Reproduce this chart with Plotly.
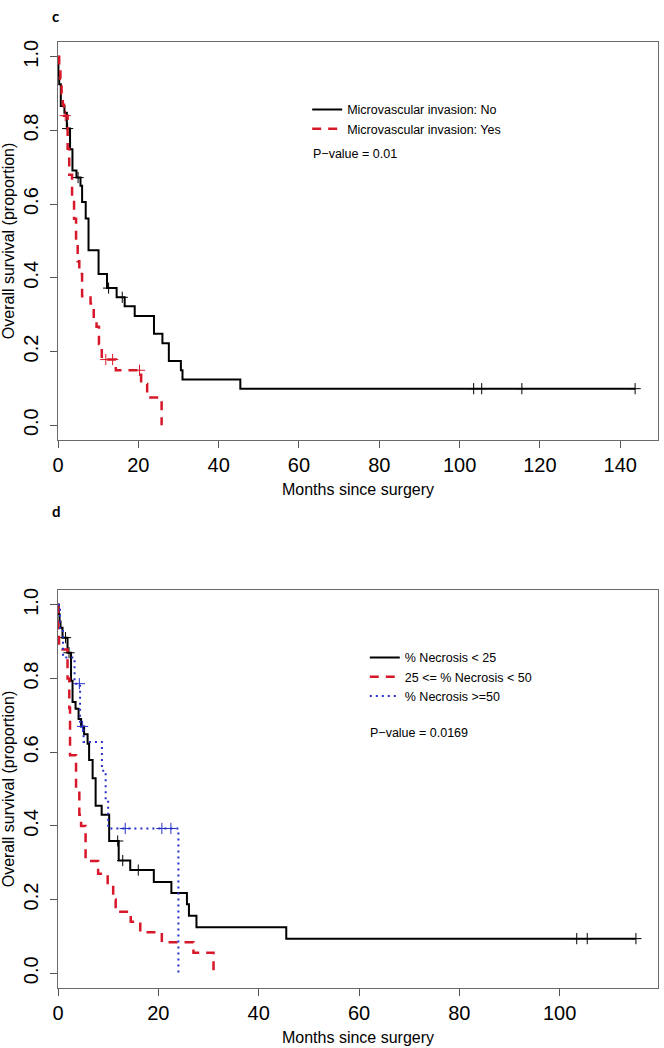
import numpy as np
import plotly.graph_objects as go

# ---------------- Panel c : Microvascular invasion ----------------
mvi_no_times = [0.1, 0.3, 0.7, 1.6, 2.2, 3.0, 3.6, 4.6, 5.6, 6.0, 6.9, 7.6, 10.1, 12.2,
                14.6, 16.6, 19.1, 23.9, 26.0, 27.6, 30.6, 31.0, 45.4]
mvi_no_surv = [0.95, 0.925, 0.866, 0.848, 0.805, 0.749, 0.691, 0.672, 0.65, 0.606, 0.561,
               0.475, 0.41, 0.372, 0.347, 0.323, 0.296, 0.248, 0.222, 0.174, 0.149, 0.124, 0.099]
mvi_no_censor = [2.4, 5.0, 12.6, 16.0, 103.5, 105.5, 115.5, 143.7]

mvi_yes_times = [0.3, 0.6, 0.9, 1.2, 1.5, 2.4, 2.8, 3.5, 4.0, 4.5, 4.9, 5.3, 6.0, 8.1, 8.9,
                 9.6, 10.2, 10.9, 14.4, 20.7, 22.2, 25.8]
mvi_yes_surv = [0.97, 0.94, 0.90, 0.87, 0.84, 0.75, 0.68, 0.61, 0.56, 0.49, 0.445, 0.41, 0.35,
                0.33, 0.29, 0.267, 0.22, 0.178, 0.149, 0.112, 0.075, 0.0]
mvi_yes_censor = [1.8, 11.9, 13.6, 20.3]

# ---------------- Panel d : % Necrosis ----------------
nec_lo_times = [0.15, 0.3, 0.5, 0.9, 1.9, 2.6, 2.9, 3.5, 4.1, 4.6, 5.2, 5.9, 6.2, 6.9, 7.5,
                8.7, 10.2, 12.1, 14.4, 19.1, 22.6, 25.7, 26.1, 27.6, 45.5]
nec_lo_surv = [0.975, 0.955, 0.938, 0.911, 0.87, 0.794, 0.736, 0.718, 0.69, 0.67, 0.649, 0.623,
               0.579, 0.529, 0.455, 0.43, 0.359, 0.306, 0.28, 0.248, 0.218, 0.187, 0.156,
               0.125, 0.094]
nec_lo_censor = [1.5, 2.2, 11.9, 12.9, 16.0, 103.4, 105.5, 115.2]

nec_mid_times = [0.05, 0.2, 1.9, 2.25, 2.4, 3.6, 4.25, 4.6, 5.5, 8.0, 9.9, 11.0, 11.5, 14.5,
                 16.4, 20.7, 27.0, 31.0]
nec_mid_surv = [0.93, 0.879, 0.80, 0.72, 0.592, 0.50, 0.43, 0.40, 0.305, 0.27, 0.24, 0.20,
                0.167, 0.14, 0.111, 0.084, 0.056, 0.0]
nec_mid_censor = []

nec_hi_times = [0.4, 1.0, 3.3, 4.4, 5.1, 8.75, 9.5, 10.0, 24.0]
nec_hi_surv = [0.929, 0.857, 0.786, 0.67, 0.628, 0.55, 0.471, 0.393, 0.0]
nec_hi_censor = [4.25, 4.9, 13.4, 20.7, 22.5]

labels_c = ["Microvascular invasion: No", "Microvascular invasion: Yes"]
labels_d = ["% Necrosis < 25", "25 <= % Necrosis < 50", "% Necrosis >=50"]
pvalue_c = "P\u2212value = 0.01"
pvalue_d = "P\u2212value = 0.0169"

xticks_c = [0, 20, 40, 60, 80, 100, 120, 140]
xticks_d = [0, 20, 40, 60, 80, 100]
yticks = [0.0, 0.2, 0.4, 0.6, 0.8, 1.0]

BLACK = "#000000"
RED = "#D7182A"
BLUE = "#2630C8"
FONT = "Liberation Sans, Arial, sans-serif"


def km_xy(times, surv, censor):
    x = [0.0] + list(times)
    y = [1.0] + list(surv)
    if censor and max(censor) > x[-1] and y[-1] > 0:
        x.append(max(censor))
        y.append(y[-1])
    return x, y


def surv_at(times, surv, t):
    idx = int(np.searchsorted(np.array(times), t, side="right"))
    return 1.0 if idx == 0 else surv[idx - 1]


fig = go.Figure()

curves = [
    (mvi_no_times, mvi_no_surv, mvi_no_censor, labels_c[0], BLACK, "solid", 2, "x", "y", "legend"),
    (mvi_yes_times, mvi_yes_surv, mvi_yes_censor, labels_c[1], RED, "9px,7px", 2.5, "x", "y", "legend"),
    (nec_lo_times, nec_lo_surv, nec_lo_censor, labels_d[0], BLACK, "solid", 2, "x2", "y2", "legend2"),
    (nec_mid_times, nec_mid_surv, nec_mid_censor, labels_d[1], RED, "9px,7px", 2.5, "x2", "y2", "legend2"),
    (nec_hi_times, nec_hi_surv, nec_hi_censor, labels_d[2], BLUE, "2px,4px", 2, "x2", "y2", "legend2"),
]

for times, surv, cens, name, color, dash, width, xa, ya, lg in curves:
    x, y = km_xy(times, surv, cens)
    fig.add_trace(go.Scatter(
        x=x, y=y, mode="lines", line=dict(shape="hv", color=color, dash=dash, width=width),
        name=name, xaxis=xa, yaxis=ya, legend=lg, showlegend=True,
    ))
    if cens:
        fig.add_trace(go.Scatter(
            x=cens, y=[surv_at(times, surv, t) for t in cens], mode="markers",
            marker=dict(symbol="cross-thin", size=8, line=dict(color=color, width=1)),
            xaxis=xa, yaxis=ya, showlegend=False, hoverinfo="skip",
        ))

axis_common = dict(
    showgrid=False, zeroline=False, showline=True, mirror=True,
    linecolor="#6a6a6a", linewidth=1, ticks="outside", ticklen=7, tickcolor="#555555",
    tickfont=dict(family=FONT, size=20, color="#000000"),
)

top_dom = [0.5794, 1.0]
bot_dom = [0.0, 0.4206]

fig.update_layout(
    width=664, height=1048, autosize=False,
    paper_bgcolor="white", plot_bgcolor="white",
    margin=dict(l=57, r=5, t=42, b=55),
    font=dict(family=FONT, color="#000000"),
    xaxis=dict(domain=[0, 1], anchor="y", range=[0, 149.4], tickvals=xticks_c,
               title=dict(text="Months since surgery", font=dict(size=16), standoff=8),
               **axis_common),
    yaxis=dict(domain=top_dom, anchor="x", range=[-0.04, 1.04], tickvals=yticks,
               tickformat=".1f", tickangle=-90, ticklabelstandoff=4,
               title=dict(text="Overall survival (proportion)", font=dict(size=16), standoff=4),
               **axis_common),
    xaxis2=dict(domain=[0, 1], anchor="y2", range=[0, 119.6], tickvals=xticks_d,
                title=dict(text="Months since surgery", font=dict(size=16), standoff=8),
                **axis_common),
    yaxis2=dict(domain=bot_dom, anchor="x2", range=[-0.04, 1.04], tickvals=yticks,
                tickformat=".1f", tickangle=-90, ticklabelstandoff=4,
                title=dict(text="Overall survival (proportion)", font=dict(size=16), standoff=4),
                **axis_common),
    legend=dict(x=0.4153, y=0.9442, xanchor="left", yanchor="top", bgcolor="rgba(0,0,0,0)",
                font=dict(family=FONT, size=12.5, color="#000000")),
    legend2=dict(x=0.5113, y=0.3649, xanchor="left", yanchor="top", bgcolor="rgba(0,0,0,0)",
                 font=dict(family=FONT, size=12.5, color="#000000")),
    annotations=[
        dict(text="<b>c</b>", xref="paper", yref="paper", x=-0.014, y=1.039,
             showarrow=False, font=dict(family="Lato, sans-serif", size=15)),
        dict(text="<b>d</b>", xref="paper", yref="paper", x=-0.014, y=0.5047,
             showarrow=False, font=dict(family="Lato, sans-serif", size=15)),
        dict(text=pvalue_c, xref="x", yref="y", x=63.0, y=0.736, xanchor="left",
             showarrow=False, font=dict(family=FONT, size=12.5)),
        dict(text=pvalue_d, xref="x2", yref="y2", x=61.7, y=0.653, xanchor="left",
             showarrow=False, font=dict(family=FONT, size=12.5)),
    ],
)

fig.write_html("out.html", config={"displayModeBar": False},
               post_script="document.body.style.margin='0';")
